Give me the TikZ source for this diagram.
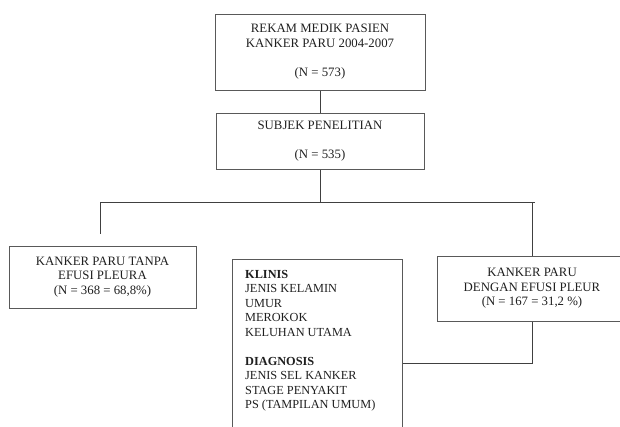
\documentclass[tikz,border=0pt]{standalone}
\usepackage{fontspec}
\setmainfont{Liberation Serif}
\begin{document}
\begin{tikzpicture}[x=1pt,y=-1pt,
  box/.style={draw=black!65, line width=1pt, inner sep=0pt, align=center, text=black!88,
    font=\fontsize{12.8}{14.6}\selectfont},
  conn/.style={draw=black!75, line width=1pt},
  listtxt/.style={inner sep=0pt, align=left, text=black!88, font=\fontsize{12.3}{14.5}\selectfont}]
\useasboundingbox (0,0) rectangle (620,426);
\clip (0,0) rectangle (620,426);
\node[box, minimum width=210pt, minimum height=76pt] (top) at (320,52)
  {REKAM MEDIK PASIEN\\KANKER PARU 2004-2007\\[14.6pt](N = 573)};
\node[box, minimum width=208pt, minimum height=56pt] (subj) at (320,141)
  {SUBJEK PENELITIAN\\[14.6pt](N = 535)};
\node[box, minimum width=187pt, minimum height=62pt] (left) at (102.5,277)
  {KANKER PARU TANPA\\EFUSI PLEURA\\(N = 368 = 68,8\%)};
\node[box, minimum width=190pt, minimum height=65pt] (right) at (532,288.5)
  {KANKER PARU\\DENGAN EFUSI PLEUR\\(N = 167 = 31,2 \%)};
\node[box, minimum width=170pt, minimum height=181pt, anchor=north west] (ds) at (232,259) {};
\node[listtxt, anchor=north west] (dstext) at (245,270)
  {\textbf{KLINIS}\\JENIS KELAMIN\\UMUR\\MEROKOK\\KELUHAN UTAMA\\[14.5pt]\textbf{DIAGNOSIS}\\JENIS SEL KANKER\\STAGE PENYAKIT\\PS (TAMPILAN UMUM)};
\coordinate (hl) at (100,202);
\coordinate (hr) at (534.5,202);
\coordinate (lend) at (100,234);
\coordinate (ylow) at (0,363);
\draw[conn] (top.south) -- (subj.north);
\draw[conn] (subj.south) -- (subj.south |- hl);
\draw[conn] (hl) -- (hr);
\draw[conn] (hl) -- (lend);
\draw[conn] (right.north |- hl) -- (right.north);
\draw[conn] (right.south) -- (right.south |- ylow) -- (ds.east |- ylow);
\end{tikzpicture}
\end{document}
